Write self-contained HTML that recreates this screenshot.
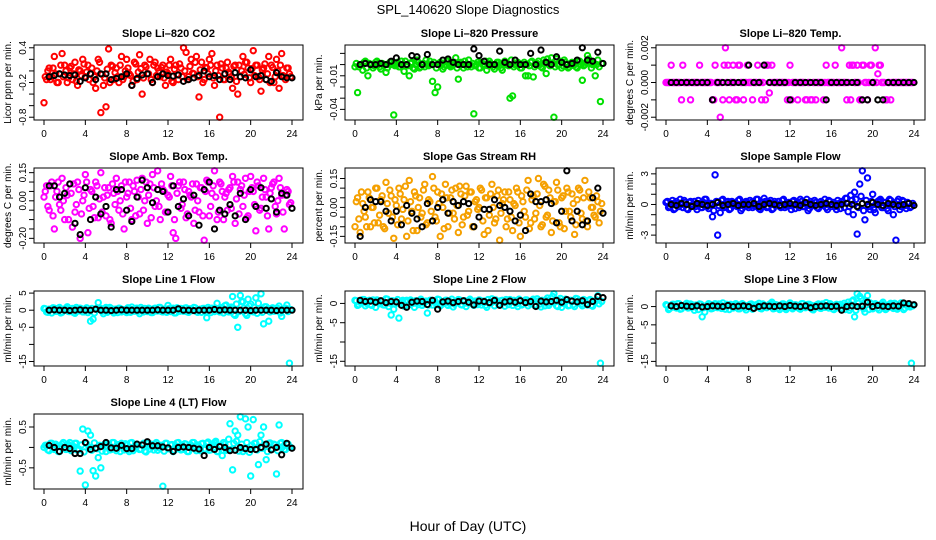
<!DOCTYPE html>
<html><head><meta charset="utf-8"><title>SPL_140620 Slope Diagnostics</title>
<style>
html,body{margin:0;padding:0;background:#fff;}
svg{display:block;font-family:"Liberation Sans",sans-serif;}
</style></head>
<body>
<svg id="chart" width="936" height="540" viewBox="0 0 936 540" xmlns="http://www.w3.org/2000/svg">
<rect width="936" height="540" fill="#fff"/>
<text x="468" y="14" text-anchor="middle" font-size="13">SPL_140620  Slope Diagnostics</text>
<text x="468" y="531" text-anchor="middle" font-size="14">Hour of Day (UTC)</text>
</svg>
<script>
const xTicks = [0,4,8,12,16,20,24];

const co2Vals = [-0.55,-0.15,0.05,-0.1,0.25,-0.2,-0.05,0.3,0.1,-0.2,0.05,-0.15,0.15,-0.25,0.0,0.2,-0.1,0.1,-0.05,-0.2,-0.3,0.2,-0.72,-0.25,-0.62,0.38,0.1,-0.15,0.05,-0.2,0.25,-0.1,0.2,-0.05,-0.25,0.15,-0.15,0.28,-0.4,0.1,-0.05,0.2,-0.2,0.15,0.05,-0.1,0.1,-0.25,-0.05,0.2,-0.2,0.1,-0.15,0.05,0.4,0.32,-0.1,0.2,-0.05,0.25,-0.45,0.15,-0.15,0.05,0.2,0.3,-0.25,0.1,-0.8,0.05,-0.15,0.15,-0.05,-0.3,0.1,-0.4,-0.1,0.25,0.15,0.05,-0.2,0.35,0.1,-0.1,-0.35,0.05,-0.15,0.25,0.1,-0.2,0.2,-0.3,0.3,-0.1,0.05,-0.05];
const co2Core = [-0.1,0.0,-0.15,0.05,-0.05,-0.2,0.1,-0.1,0.0,-0.12,0.08,-0.05,-0.18,0.02,-0.08,0.12,-0.02,-0.15,0.05,-0.1,0.0,0.15,-0.06,-0.12,0.03,-0.2,0.08,-0.03,-0.1,0.1,-0.15,0.0,0.05,-0.08,-0.18,0.12,-0.02,0.04,-0.12,0.07,-0.05,-0.15,0.1,-0.08,0.0,0.06,-0.12,-0.02,0.1,-0.18,0.03,-0.06,0.12,-0.1,0.0,-0.15,0.08,-0.04,0.15,-0.1,0.02,-0.2,0.06,-0.05,0.1,-0.12,0.0,-0.08,0.12,-0.15,0.05,-0.02,-0.1,0.08,-0.18,0.1,0.0,-0.06,0.15,-0.12,0.04,-0.08,0.1,-0.15,0.02,0.12,-0.05,-0.2,0.06,-0.1,0.0,0.1,-0.08,-0.15,0.05,-0.1];
const co2Black = [-0.1,-0.08,-0.05,-0.07,-0.08,-0.07,-0.18,-0.12,-0.05,-0.15,-0.05,-0.05,-0.15,-0.13,-0.1,-0.05,-0.25,-0.13,-0.07,-0.05,-0.2,-0.1,-0.05,-0.08,-0.09,-0.07,-0.18,-0.15,-0.12,-0.08,0.0,-0.1,-0.08,-0.15,-0.05,-0.15,-0.03,-0.1,-0.12,0.02,-0.1,-0.08,-0.15,-0.18,-0.03,-0.1,-0.12,-0.12];
const co2Ticks = [0.4,0.2,0,-0.2,-0.4,-0.6,-0.8];
const co2Labels = ["0.4","","","-0.2","","","-0.8"];

const presVals = [-0.002,-0.025,0.0,-0.005,0.003,-0.01,0.0,-0.003,0.002,0.0,-0.004,0.0,-0.007,0.0,0.002,-0.045,0.0,-0.002,0.003,-0.006,0.0,-0.01,0.002,-0.004,0.004,-0.003,0.0,-0.002,0.0,0.003,-0.015,-0.025,-0.02,0.002,-0.004,0.0,0.003,-0.002,0.0,0.006,-0.013,0.002,-0.003,0.0,0.004,-0.002,-0.044,0.0,-0.003,0.002,0.0,-0.005,0.003,0.0,-0.004,0.002,0.0,-0.005,0.003,0.0,-0.03,-0.028,0.0,0.002,-0.003,0.0,-0.01,-0.01,0.002,-0.011,0.0,0.003,-0.002,0.004,-0.008,0.0,0.006,-0.047,0.005,0.0,-0.003,0.004,0.0,-0.002,0.002,0.0,-0.003,0.003,-0.014,0.0,0.008,0.002,0.0,-0.01,0.004,-0.033];
const presCore = [0.001,-0.002,0.0,0.002,-0.003,0.001,0.0,-0.001,0.003,-0.002,0.001,0.0,-0.003,0.002,0.0,-0.001,0.002,-0.002,0.0,0.003,-0.001,0.001,-0.003,0.0,0.002,-0.002,0.001,0.004,-0.001,0.0,0.002,-0.003,0.001,0.0,-0.002,0.003,0.0,-0.001,0.002,-0.003,0.001,0.0,0.003,-0.002,0.0,0.001,-0.001,0.002,-0.003,0.0,0.003,-0.001,0.001,-0.002,0.0,0.002,-0.003,0.001,0.0,-0.001,0.004,-0.002,0.0,0.001,-0.003,0.002,0.0,-0.001,0.003,-0.002,0.001,0.0,-0.003,0.002,0.005,-0.001,0.001,-0.002,0.0,0.003,-0.001,0.002,-0.003,0.0,0.001,-0.002,0.003,0.0,-0.001,0.002,0.005,-0.003,0.001,0.0,-0.002,0.001];
const presBlack = [0.0,0.001,0.0,0.0,0.001,0.0,0.003,0.006,0.0,0.0,0.008,0.007,0.0,0.009,0.0,0.0,0.004,0.005,0.002,0.0,0.0,0.0,0.014,0.008,0.003,0.0,0.0,0.012,0.002,0.0,0.004,0.0,0.0,0.01,0.0,0.013,0.002,0.0,0.007,0.002,0.0,0.001,0.004,0.015,0.004,0.003,0.011,0.001];
const presTicks = [0.01,0,-0.01,-0.02,-0.03,-0.04];
const presLabels = ["","","-0.01","","","-0.04"];

const tempVals = [0,0,0.001,0,0,0,-0.001,0,0,0,0,0,0,0.001,0,0,0,0,-0.001,0.001,0,-0.002,-0.001,0.002,0.001,0,0.001,-0.001,0.001,0,-0.001,0,0,0,0,0,0,-0.001,0.001,0.001,-0.0006,0.001,0,0,0,0,0,-0.001,0.001,0,0,-0.001,0,0,-0.001,0,-0.001,0,-0.001,0,0,-0.001,0.001,0,0,0,0,0,0.002,0,-0.001,0.001,0.001,0,0.001,-0.001,0.001,0,-0.001,0.001,0,0.002,0.0005,0.001,0,-0.001,0,-0.001,0,0,0,0,0,0,0,0];
const tempCore = [0,0,0,0,0,0,0.001,0,0,-0.001,0,0,0,0,0,0,0,0,-0.001,0,0,0,0.001,0,-0.001,0,0,-0.001,0.001,0,0,0.001,0,-0.001,0,0.001,0,0,-0.001,0.001,0,0,0,0,0,0,0,0,-0.001,0,0,0,0,0,-0.001,0,-0.001,0,0,0,0,0,0,0,0,0.001,0,0,0,0,0,-0.001,0.001,0,0,-0.001,0.001,0,0,0.001,0,0,0.001,0,0,-0.001,0,0,0,0,0,0,0,0,0,0];
const tempBlack = [0,0,0,0,0,0,0,0,-0.001,0,0,0,0,0,0,0.001,0,0,0.001,0,0,0,0,-0.001,0,0,0,0,0,0,-0.001,0,0,0,0,0,0,-0.001,-0.001,0,-0.001,-0.001,0,0,0,0,0,0];
const tempTicks = [0.002,0.001,0,-0.001,-0.002];
const tempLabels = ["0.002","","0.000","","-0.002"];

const boxVals = [0.02,0.08,-0.05,0.1,-0.15,0.05,-0.02,0.12,-0.1,0.03,0.09,-0.14,-0.06,0.1,-0.2,0.0,0.14,-0.17,0.06,-0.03,0.1,-0.09,0.15,0.02,-0.08,0.07,-0.12,0.04,0.12,-0.05,0.08,-0.15,0.02,0.1,-0.1,0.05,0.11,-0.07,0.12,0.0,-0.12,0.09,0.14,-0.03,0.16,-0.1,0.06,-0.06,0.03,0.13,-0.17,-0.2,0.08,-0.04,0.1,-0.09,0.05,0.02,-0.12,0.09,-0.06,0.07,-0.21,0.11,-0.08,0.04,0.16,-0.1,0.1,0.05,0.02,-0.05,0.07,0.13,-0.12,0.1,0.06,-0.03,0.12,-0.08,0.13,0.05,-0.16,0.08,-0.04,0.12,0.02,-0.15,0.07,0.1,-0.07,0.12,0.03,-0.15,0.06,-0.02];
const boxCore = [0.05,-0.03,0.08,-0.08,0.02,0.1,-0.05,0.0,0.07,-0.1,0.04,0.09,-0.02,0.06,-0.07,0.03,0.1,-0.04,0.05,-0.09,0.08,0.01,-0.06,0.07,0.03,-0.1,0.09,-0.02,0.05,0.0,-0.07,0.1,0.04,-0.04,0.08,-0.08,0.02,0.06,-0.05,0.1,0.03,-0.09,0.07,0.0,-0.03,0.09,0.05,-0.06,0.02,0.08,-0.1,0.04,0.1,-0.02,0.06,-0.07,0.03,0.09,-0.05,0.0,0.07,-0.08,0.05,0.1,-0.03,0.08,0.02,-0.06,0.09,-0.1,0.04,0.06,-0.04,0.1,0.01,-0.07,0.08,0.03,-0.09,0.05,0.07,-0.02,0.1,-0.05,0.02,0.06,-0.08,0.04,0.09,-0.03,0.0,0.07,-0.06,0.03,0.05,-0.01];
const boxBlack = [0.08,0.08,0.02,0.04,0.09,-0.12,-0.18,0.07,-0.1,0.02,-0.07,-0.03,-0.14,0.06,0.06,-0.05,-0.11,0.02,0.11,0.07,-0.01,0.06,0.05,-0.06,0.08,-0.03,0.01,-0.08,0.03,-0.13,0.06,0.1,-0.15,-0.05,-0.07,-0.02,-0.08,0.04,-0.1,0.06,-0.03,0.07,-0.04,0.01,-0.06,0.04,0.03,-0.04];
const boxTicks = [0.15,0.1,0.05,0,-0.05,-0.1,-0.15,-0.2];
const boxLabels = ["0.15","","","0.00","","","","-0.20"];

const rhVals = [-0.1,0.05,-0.13,0.02,-0.05,0.08,-0.1,0.0,0.1,-0.08,0.04,-0.1,0.13,-0.03,0.06,-0.16,0.01,0.1,-0.06,0.04,-0.15,0.14,-0.02,0.08,-0.12,0.05,-0.03,0.12,-0.08,0.03,0.16,-0.05,0.08,-0.15,0.0,0.12,-0.1,0.05,-0.03,0.1,-0.13,0.07,-0.05,0.11,-0.02,0.08,-0.1,0.04,0.0,0.09,-0.14,0.05,-0.04,0.12,-0.08,0.06,-0.17,0.02,0.08,-0.06,0.04,-0.12,0.01,0.08,-0.15,0.03,-0.05,0.14,-0.08,0.06,-0.03,0.15,-0.1,0.12,-0.05,0.09,-0.13,0.03,0.13,-0.08,0.05,-0.11,0.1,-0.02,0.07,-0.14,0.04,0.09,-0.06,0.14,-0.1,0.05,0.0,-0.05,0.03,-0.02];
const rhCore = [0.03,-0.06,0.08,-0.02,-0.1,0.05,0.0,-0.08,0.1,-0.04,0.06,-0.11,0.02,0.09,-0.05,0.04,-0.09,0.07,-0.01,0.11,-0.07,0.03,-0.12,0.06,0.0,-0.05,0.09,-0.09,0.04,-0.02,0.1,-0.07,0.02,0.07,-0.11,0.05,-0.03,0.09,-0.06,0.01,0.11,-0.09,0.06,-0.04,0.08,-0.1,0.03,-0.01,0.1,-0.07,0.05,-0.12,0.07,0.0,-0.06,0.09,-0.03,0.04,-0.1,0.08,-0.05,0.02,0.1,-0.08,0.06,-0.02,0.09,-0.11,0.04,-0.06,0.07,0.01,-0.09,0.11,-0.04,0.05,-0.07,0.03,0.09,-0.1,0.06,-0.02,0.08,-0.05,0.02,-0.09,0.1,-0.03,0.05,-0.07,0.08,0.0,-0.04,0.06,-0.08,0.02];
const rhBlack = [-0.15,0.0,0.04,0.03,0.03,-0.02,-0.07,-0.02,-0.09,0.01,-0.03,-0.06,-0.1,0.02,-0.07,0.0,0.04,-0.03,0.03,0.01,0.03,0.02,-0.1,-0.05,-0.01,-0.01,0.04,0.01,0.0,-0.02,-0.07,-0.04,-0.12,0.07,0.03,0.03,0.04,0.02,-0.08,-0.02,0.19,-0.07,-0.02,-0.09,-0.07,0.05,0.1,-0.03];
const rhTicks = [0.15,0.1,0.05,0,-0.05,-0.1,-0.15];
const rhLabels = ["0.15","","","0.00","","","-0.15"];

const sampVals = [0.2,-0.3,0.1,-0.5,0.3,-0.2,0.0,0.4,-0.4,0.2,-0.1,0.3,-0.5,0.1,-0.3,0.5,-0.2,0.1,-1.2,2.9,-3.0,-0.8,0.5,-0.2,0.3,-0.4,0.2,-0.1,0.4,-0.6,0.1,0.3,-0.3,0.2,-0.1,0.5,-0.4,0.1,0.6,-0.3,0.2,-0.5,0.3,0.0,-0.2,0.4,-0.3,0.1,-0.1,0.3,-0.4,0.2,0.5,-0.2,0.1,-0.6,0.3,-0.1,0.2,-0.4,0.3,0.1,-0.3,0.4,-0.2,0.2,-0.5,0.1,0.3,-0.3,0.6,-0.2,0.4,1.2,-2.9,2.0,3.3,-1.5,2.6,-0.5,1.0,-0.8,0.3,0.5,-0.3,0.2,-0.6,0.4,-1.0,-3.5,0.5,-0.2,0.3,-0.4,0.1,-0.2];
const sampCore = [0.3,-0.2,0.4,-0.4,0.1,0.5,-0.3,0.2,-0.5,0.3,0.0,-0.2,0.4,-0.3,0.2,0.5,-0.4,0.1,-0.6,0.3,-0.1,0.4,-0.3,0.2,-0.5,0.3,0.1,-0.2,0.5,-0.4,0.2,-0.1,0.4,-0.3,0.0,0.5,-0.5,0.2,0.3,-0.2,0.4,-0.4,0.1,0.3,-0.3,0.5,-0.1,0.2,-0.5,0.4,0.0,-0.3,0.3,-0.2,0.5,-0.4,0.1,0.4,-0.3,0.2,-0.1,0.5,-0.5,0.3,0.0,-0.2,0.4,-0.4,0.2,0.6,-0.7,0.9,-1.0,0.5,-0.3,0.8,-0.6,0.4,-0.2,0.3,-0.5,0.1,0.4,-0.3,0.2,-0.4,0.5,0.0,-0.2,0.3,-0.5,0.4,-0.1,0.2,-0.3,0.1];
const sampBlack = [0.0,-0.1,0.1,0.0,-0.2,0.1,0.0,-0.1,0.0,0.2,-0.1,0.0,0.1,-0.1,0.0,0.0,0.1,-0.2,0.0,0.1,0.0,-0.1,0.0,0.1,0.0,-0.1,0.2,0.0,-0.1,0.0,0.1,0.0,-0.1,0.0,0.1,0.0,-0.2,0.1,0.0,0.2,0.0,-0.1,0.1,0.0,-0.1,0.0,0.1,-0.1];
const sampTicks = [3,2,1,0,-1,-2,-3];
const sampLabels = ["3","","","0","","","-3"];

const l1Vals = [0.5,-0.5,0.3,-0.8,0.6,-0.3,0.8,-0.6,0.2,1.0,-0.4,0.5,-0.9,0.3,0.6,-0.5,0.2,-0.7,-3.2,-2.6,0.4,2.2,0.5,-1.0,0.8,-0.3,0.5,-0.8,0.3,0.6,-0.5,0.2,-0.7,0.4,0.9,-0.3,0.6,-1.0,0.2,0.5,-0.4,0.3,-0.7,0.6,-0.2,0.8,-0.5,0.3,1.4,-0.4,0.6,-0.8,0.2,0.5,-0.3,0.7,-0.6,0.3,0.8,-0.4,0.2,-0.6,0.5,-2.2,0.3,0.6,-0.4,2.0,-0.5,0.8,1.3,-0.3,0.5,4.0,-1.5,-5.0,4.3,2.5,-1.0,3.2,1.8,-0.5,3.6,2.0,4.8,-4.0,1.0,-3.2,0.5,-0.3,0.6,1.2,-1.8,0.4,1.5,-15.5];
const l1Core = [0.4,-0.6,0.2,0.7,-0.3,0.5,-0.8,0.1,0.6,-0.4,0.3,-0.7,0.8,-0.2,0.4,-0.5,0.7,-0.1,0.5,-0.8,0.2,0.6,-0.3,0.4,-0.6,0.8,-0.2,0.3,-0.7,0.5,0.1,-0.4,0.7,-0.6,0.2,0.5,-0.3,0.8,-0.5,0.1,0.6,-0.7,0.4,-0.2,0.8,-0.4,0.3,-0.6,0.5,0.0,-0.8,0.7,-0.3,0.2,0.6,-0.5,0.4,-0.1,0.7,-0.6,0.3,0.5,-0.4,0.8,-0.7,0.2,0.6,-0.2,0.4,-0.8,1.5,-0.5,0.9,-1.2,1.8,-0.4,2.5,0.6,-1.5,1.2,-0.3,0.8,-0.9,0.5,-0.6,1.0,0.3,-0.5,0.7,-0.2,0.5,-0.8,0.3,0.6,-0.4,0.2];
const l1Black = [0.0,0.1,0.0,0.0,-0.1,0.0,0.1,0.0,0.0,0.3,0.0,0.0,-0.1,0.0,0.1,0.0,0.0,0.0,0.0,0.0,0.0,0.1,0.0,0.0,0.0,0.4,0.0,0.0,-0.1,0.0,0.0,0.0,0.2,0.0,0.1,0.0,0.0,0.0,0.0,-0.1,0.0,0.0,0.0,0.0,-0.1,0.0,0.0,0.0];
const l1Ticks = [5,0,-5,-10,-15];
const l1Labels = ["5","0","-5","","-15"];

const l2Vals = [0.8,-0.5,0.3,1.0,-0.6,0.5,-0.3,0.9,-1.0,0.4,0.6,-0.4,1.2,-0.8,-3.0,-1.5,0.3,-3.8,0.5,-0.7,0.8,-0.3,0.6,-1.0,0.2,0.7,-0.5,0.3,-2.5,0.8,-0.4,0.5,1.1,-0.6,0.2,0.8,-0.5,0.4,-0.9,0.6,1.0,-0.3,0.5,-0.8,0.3,0.7,-0.5,0.2,0.9,-0.4,0.6,-1.0,0.3,1.2,-0.6,0.5,-0.3,0.8,-0.7,0.4,1.0,-0.5,0.3,-0.8,0.7,-0.2,0.9,-0.6,0.4,1.1,-0.4,0.6,-0.9,0.3,0.8,-0.5,1.3,2.5,-0.6,0.7,-1.0,0.4,0.9,-0.5,0.6,-0.8,1.2,0.3,-0.6,0.8,-0.4,1.0,-0.7,0.5,2.0,-15.5];
const l2Core = [0.7,-0.3,0.5,1.0,0.0,0.8,-0.5,0.4,0.9,-0.1,0.6,-0.4,1.1,0.1,0.7,-0.2,1.0,0.2,0.8,-0.5,0.5,0.9,0.0,0.7,-0.3,1.1,0.1,0.6,-0.4,0.8,0.4,-0.1,1.0,-0.3,0.5,0.8,0.0,1.1,-0.2,0.4,0.9,-0.4,0.7,0.1,1.1,-0.1,0.6,-0.3,0.8,0.3,-0.5,1.0,0.0,0.5,0.9,-0.2,0.7,0.2,1.0,-0.3,0.6,0.8,-0.1,1.1,-0.4,0.5,0.9,0.1,0.7,-0.5,1.2,-0.2,0.8,-0.6,1.4,0.0,1.8,0.9,-0.8,1.3,0.0,1.1,-0.6,0.8,-0.3,1.3,0.6,-0.2,1.0,0.1,0.8,-0.5,0.6,0.9,-0.1,0.5];
const l2Black = [0.8,0.5,0.6,0.3,0.7,0.2,0.5,0.4,-0.5,-1.0,0.3,0.6,0.5,-0.3,0.8,-1.5,0.4,0.6,0.2,0.5,0.7,0.3,-0.4,0.6,0.5,0.2,0.8,-0.5,0.4,0.6,0.3,0.7,0.2,0.5,-0.8,0.6,0.4,0.5,0.8,0.3,1.0,0.6,0.4,0.7,-0.3,0.5,1.8,1.5];
const l2Ticks = [0,-5,-10,-15];
const l2Labels = ["0","-5","","-15"];

const l3Vals = [0.5,-0.8,0.3,0.6,-0.4,0.8,-0.6,0.2,0.9,-0.3,0.5,-1.0,0.4,0.7,-2.8,-1.5,0.3,0.6,-0.5,0.8,-0.3,0.5,1.0,-0.7,0.3,0.6,-0.4,0.8,-0.6,0.3,0.5,-0.9,0.2,0.7,-0.4,0.5,0.9,-0.6,0.3,-0.3,0.6,1.2,-0.5,0.4,-0.8,0.7,0.3,-0.4,1.0,-0.6,0.5,0.2,-0.7,0.8,-0.3,0.6,0.4,-0.9,0.3,0.7,-0.5,0.5,1.1,-0.4,0.3,-0.8,0.6,0.2,-0.5,0.9,0.4,-1.0,1.5,-2.8,3.5,2.8,0.5,-1.5,3.0,1.0,-0.6,0.8,-0.4,0.5,1.2,-0.8,0.3,0.9,-0.5,0.6,-0.3,1.0,-0.8,0.4,0.2,-15.5];
const l3Core = [0.3,-0.5,0.6,-0.2,0.8,-0.7,0.1,0.5,-0.4,0.7,-0.1,0.4,-0.8,0.6,-0.3,0.2,0.8,-0.6,0.3,-0.2,0.7,-0.5,0.1,0.6,-0.8,0.4,-0.1,0.5,-0.6,0.8,-0.3,0.2,0.6,-0.7,0.4,0.1,-0.5,0.7,-0.2,0.3,0.8,-0.6,0.5,-0.4,0.2,0.7,-0.8,0.1,0.6,-0.3,0.4,-0.5,0.8,-0.1,0.3,0.6,-0.7,0.2,0.5,-0.4,0.7,-0.2,0.1,0.8,-0.6,0.4,-0.3,0.6,0.2,-0.8,1.2,-0.4,1.8,-1.0,0.9,2.2,-0.6,1.5,-0.8,0.7,-0.3,0.5,-0.9,0.8,0.2,-0.5,0.6,-0.2,0.9,-0.7,0.3,0.5,-0.4,0.6,-0.1,0.2];
const l3Black = [0.2,0.0,0.3,0.1,0.0,0.2,-0.1,0.0,0.2,0.1,0.0,0.3,0.0,0.1,0.2,0.0,-0.5,0.0,0.2,0.1,0.0,0.2,0.0,0.3,0.1,0.0,0.2,-0.3,0.0,0.1,0.2,0.0,0.1,-1.0,0.0,0.2,0.0,0.1,1.2,0.0,0.3,0.1,0.0,0.2,0.1,1.0,0.8,0.5];
const l3Ticks = [5,0,-5,-10,-15];
const l3Labels = ["5","0","-5","","-15"];

const l4Vals = [0.0,0.05,-0.08,0.1,-0.05,0.03,-0.1,0.08,-0.03,0.06,0.12,-0.05,0.1,-0.07,-0.58,0.45,-0.92,0.4,0.3,-0.57,-0.7,-0.25,-0.5,0.05,-0.1,0.08,-0.05,0.12,-0.08,0.03,0.1,-0.06,0.05,-0.1,0.12,-0.03,0.08,-0.05,0.06,-0.09,0.1,-0.04,0.02,0.08,-0.07,0.05,-0.95,0.1,-0.03,0.06,-0.1,0.04,0.12,-0.06,0.02,0.08,-0.1,0.05,0.12,-0.08,0.03,0.09,-0.05,0.1,-0.07,0.06,0.12,-0.1,0.04,-0.2,0.08,-0.05,0.58,-0.55,0.4,0.3,0.75,-0.1,0.7,0.5,-0.7,0.68,0.1,-0.42,0.3,0.5,-0.3,0.1,-0.05,0.08,-0.65,0.55,0.12,-0.05,0.08,0.0];
const l4Core = [0.05,-0.06,0.1,-0.02,0.08,-0.1,0.03,0.12,-0.05,0.07,-0.08,0.02,0.1,-0.04,0.06,-0.11,0.09,0.0,-0.07,0.11,-0.03,0.05,-0.09,0.08,0.01,-0.06,0.12,-0.02,0.07,-0.1,0.04,0.09,-0.05,0.11,-0.08,0.02,0.06,-0.04,0.1,-0.11,0.03,0.08,-0.06,0.12,-0.01,0.05,-0.09,0.1,-0.03,0.07,-0.07,0.11,0.0,-0.05,0.09,-0.1,0.04,0.12,-0.02,0.06,-0.08,0.1,-0.04,0.13,-0.06,0.08,0.15,-0.1,0.05,0.12,-0.07,0.2,-0.05,0.1,0.15,-0.09,0.08,-0.03,0.12,-0.12,0.05,0.1,-0.06,0.14,-0.02,0.07,-0.1,0.11,-0.04,0.06,-0.08,0.1,0.02,-0.05,0.08,0.0];
const l4Black = [0.05,0.0,-0.1,0.0,-0.03,-0.15,-0.15,0.12,-0.05,-0.02,0.02,0.12,-0.01,-0.02,0.05,-0.03,-0.03,0.08,0.06,0.14,0.04,0.04,0.01,-0.01,-0.1,0.0,0.01,0.0,-0.02,-0.04,-0.2,0.0,-0.05,0.02,0.0,-0.08,-0.07,0.0,-0.03,-0.05,-0.05,0.0,0.08,-0.06,0.0,-0.18,0.1,-0.02];
const l4Ticks = [0.5,0,-0.5];
const l4Labels = ["0.5","","-0.5"];

const NS = "http://www.w3.org/2000/svg";
const svg = document.getElementById('chart');
function mk(tag, attrs, parent){
  const e = document.createElementNS(NS, tag);
  for (const k in attrs) e.setAttribute(k, attrs[k]);
  (parent||svg).appendChild(e);
  return e;
}
const colLeft = [34, 345, 656];
const rowTop = [45, 168, 291, 414];
const W = 269, H = 75;

const panels = [
 {slug:'li820-co2', title:'Slope Li\u2013820 CO2', ylab:'Licor ppm per min.', col:'#ff0000', v:co2Vals, k:co2Core, b:co2Black, t:co2Ticks, l:co2Labels, c:0, r:0},
 {slug:'li820-pressure', title:'Slope Li\u2013820 Pressure', ylab:'kPa per min.', col:'#00e000', v:presVals, k:presCore, b:presBlack, t:presTicks, l:presLabels, c:1, r:0},
 {slug:'li820-temp', title:'Slope Li\u2013820 Temp.', ylab:'degrees C per min.', col:'#ff00ff', v:tempVals, k:tempCore, b:tempBlack, t:tempTicks, l:tempLabels, c:2, r:0},
 {slug:'amb-box-temp', title:'Slope Amb. Box Temp.', ylab:'degrees C per min.', col:'#ff00ff', v:boxVals, k:boxCore, b:boxBlack, t:boxTicks, l:boxLabels, c:0, r:1},
 {slug:'gas-stream-rh', title:'Slope Gas Stream RH', ylab:'percent per min.', col:'#f5a000', v:rhVals, k:rhCore, b:rhBlack, t:rhTicks, l:rhLabels, c:1, r:1},
 {slug:'sample-flow', title:'Slope Sample Flow', ylab:'ml/min per min.', col:'#0000ff', v:sampVals, k:sampCore, b:sampBlack, t:sampTicks, l:sampLabels, c:2, r:1},
 {slug:'line1-flow', title:'Slope Line 1 Flow', ylab:'ml/min per min.', col:'#00ffff', v:l1Vals, k:l1Core, b:l1Black, t:l1Ticks, l:l1Labels, c:0, r:2},
 {slug:'line2-flow', title:'Slope Line 2 Flow', ylab:'ml/min per min.', col:'#00ffff', v:l2Vals, k:l2Core, b:l2Black, t:l2Ticks, l:l2Labels, c:1, r:2},
 {slug:'line3-flow', title:'Slope Line 3 Flow', ylab:'ml/min per min.', col:'#00ffff', v:l3Vals, k:l3Core, b:l3Black, t:l3Ticks, l:l3Labels, c:2, r:2},
 {slug:'line4-flow', title:'Slope Line 4 (LT) Flow', ylab:'ml/min per min.', col:'#00ffff', v:l4Vals, k:l4Core, b:l4Black, t:l4Ticks, l:l4Labels, c:0, r:3}
];

panels.forEach(p => {
  const x0 = colLeft[p.c], y0 = rowTop[p.r];
  const g = mk('g', {});
  
  
  const all = p.v.concat(p.b, p.k);
  let mn = Math.min.apply(null, all), mx = Math.max.apply(null, all);
  const pad = (mx - mn) * 0.04 || 1;
  mn -= pad; mx += pad;
  const xs = h => x0 + 10 + h * (W - 21) / 24;
  const ys = v => y0 + H - (v - mn) / (mx - mn) * H;

  const title = mk('text', {x: x0 + W/2, y: y0 - 8, 'text-anchor':'middle', 'font-size':'11', 'font-weight':'bold'}, g);
  title.textContent = p.title;
  
  

  const yl = mk('text', {x:0, y:0, transform:'translate(' + (x0 - 23) + ',' + (y0 + H/2) + ') rotate(-90)', 'text-anchor':'middle', 'font-size':'10'}, g);
  yl.textContent = p.ylab;
  
  

  const n = p.v.length;
  p.v.forEach((v, i) => {
    const c = mk('circle', {cx: xs(i * 24 / n), cy: ys(v), r: 2.7, fill: 'none', stroke: p.col, 'stroke-width': 2}, g);
    
    
  });
  const m = p.k.length;
  p.k.forEach((v, i) => {
    const c = mk('circle', {cx: xs((i + 0.5) * 24 / m), cy: ys(v), r: 2.7, fill: 'none', stroke: p.col, 'stroke-width': 2}, g);
    
    
  });
  p.b.forEach((v, i) => {
    const c = mk('circle', {cx: xs(0.5 + i * 0.5), cy: ys(v), r: 2.6, fill: 'none', stroke: '#000', 'stroke-width': 2}, g);
    
    
  });

  const box = mk('rect', {x: x0, y: y0, width: W, height: H, fill: 'none', stroke: '#000', 'stroke-width': 1}, g);
  
  

  xTicks.forEach(t => {
    const x = xs(t);
    mk('line', {x1: x, x2: x, y1: y0 + H, y2: y0 + H + 5, stroke: '#000'}, g);
    const tl = mk('text', {x: x, y: y0 + H + 17, 'text-anchor': 'middle', 'font-size': '10'}, g);
    tl.textContent = t;
    
    
  });
  p.t.forEach((t, i) => {
    const y = ys(t);
    if (y < y0 - 1 || y > y0 + H + 1) return;
    mk('line', {x1: x0 - 5, x2: x0, y1: y, y2: y, stroke: '#000'}, g);
    if (p.l[i]) {
      const tl = mk('text', {x: 0, y: 0, transform: 'translate(' + (x0 - 8) + ',' + y + ') rotate(-90)', 'text-anchor': 'middle', 'font-size': '10'}, g);
      tl.textContent = p.l[i];
      
      
    }
  });
});
</script>
</body></html>
